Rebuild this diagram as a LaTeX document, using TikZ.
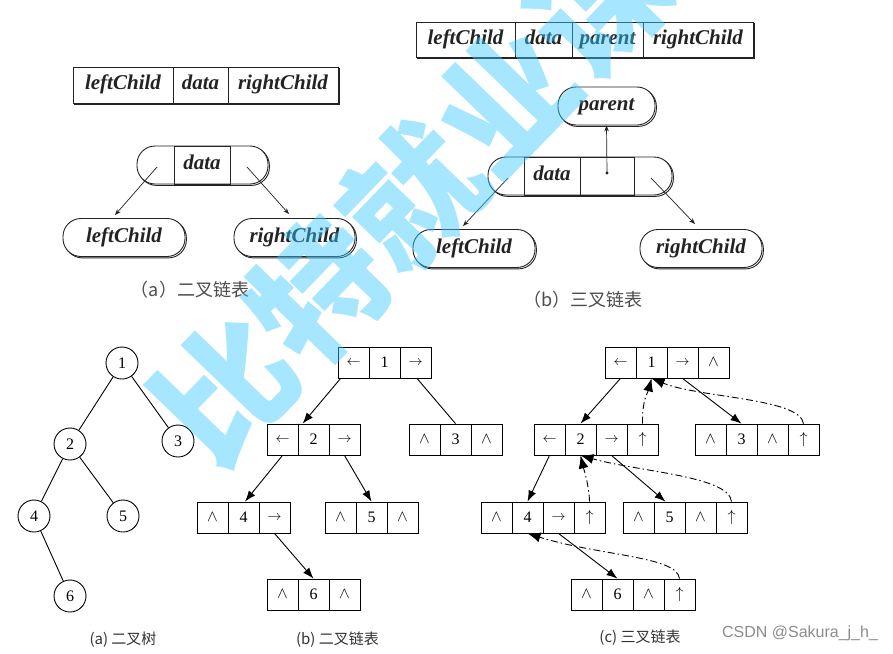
\RequirePackage{fix-cm}
\documentclass[tikz,border=0pt]{standalone}
\usepackage{fontspec}
\setmainfont{Liberation Serif}
\newfontfamily\cjk{Noto Sans CJK SC}
\newfontfamily\csdnfont{Liberation Sans}
\usetikzlibrary{arrows.meta,shadows}
\definecolor{wmblue}{RGB}{60,200,255}
\definecolor{ink}{RGB}{35,35,35}
\newcommand\myL{{\fontsize{14}{14}\selectfont$\leftarrow$}}
\newcommand\myR{{\fontsize{14}{14}\selectfont$\rightarrow$}}
\newcommand\myU{$\uparrow$}
\newcommand\myN{$\wedge$}
\begin{document}
\begin{tikzpicture}[x=1pt,y=-1pt,
  shd/.style={copy shadow={shadow xshift=1.4pt,shadow yshift=-1.4pt,draw=ink}},
  itf/.style={font=\bfseries\itshape\fontsize{21}{21}\selectfont,text=ink,text height=14pt,text depth=5pt},
  fld/.style={draw=ink,line width=0.9pt,fill=white,minimum height=36pt,inner sep=0pt,itf,shd},
  rnd/.style={draw=ink,line width=0.9pt,fill=white,rounded corners=18pt,minimum height=38pt,inner sep=0pt,itf,shd},
  inn/.style={draw=ink,line width=0.9pt,minimum height=38pt,inner sep=0pt,itf},
  tarr/.style={draw=ink,line width=0.7pt,-{Stealth[length=6pt,width=4.5pt]}},
  cell/.style={draw,line width=0.8pt,minimum width=31pt,minimum height=31pt,inner sep=0pt,
    font=\fontsize{16}{16}\selectfont},
  circ/.style={circle,draw,line width=0.9pt,minimum size=32pt,inner sep=0pt,font=\fontsize{16}{16}\selectfont},
  tline/.style={line width=0.9pt},
  barr/.style={line width=0.9pt,-{Latex[length=11pt,width=8pt]}},
  bline/.style={line width=0.9pt},
  parr/.style={line width=0.9pt,dash pattern=on 7pt off 3pt on 1.5pt off 3pt,-{Latex[length=13pt,width=10pt]}},
  capbig/.style={font=\cjk\fontsize{18}{18}\selectfont,text=black!70},
  capsm/.style={font=\cjk\fontsize{15}{15}\selectfont,text=black!80}
]
\useasboundingbox (0,0) rectangle (893,653);
\fill[white] (0,0) rectangle (893,653);

% ---------- top (a) ----------
\node[fld,minimum width=100pt] (T1a) at (123,85) {leftChild};
\node[fld,minimum width=55pt] (T1b) at (200.5,85) {data};
\node[fld,minimum width=110pt] (T1c) at (283,85) {rightChild};

\node[rnd,minimum width=131pt] (an) at (202.5,165) {};
\node[inn,minimum width=56pt] (adat) at (202,165) {data};
\node[rnd,minimum width=122pt] (L1) at (124,237.5) {leftChild};
\node[rnd,minimum width=121pt] (R1) at (294.5,237.5) {rightChild};
\coordinate (aLs) at (157,167);
\coordinate (aRs) at (247,167);
\draw[tarr] (aLs) -- ([xshift=-9pt,yshift=3pt]L1.north);
\draw[tarr] (aRs) -- ([xshift=-5.5pt,yshift=4pt]R1.north);
\node[capbig] (capA) at (190,290) {（a）二叉链表};

% ---------- top (b) ----------
\node[fld,minimum width=99pt,minimum height=35pt] (T2a) at (465.5,39.5) {leftChild};
\node[fld,minimum width=57pt,minimum height=35pt] (T2b) at (543.5,39.5) {data};
\node[fld,minimum width=71pt,minimum height=35pt] (T2c) at (607.5,39.5) {parent};
\node[fld,minimum width=110pt,minimum height=35pt] (T2d) at (698,39.5) {rightChild};

\node[rnd,minimum width=97pt] (P) at (606.5,106) {parent};
\node[rnd,minimum width=184pt] (bn) at (580,176) {};
\node[inn,minimum width=56pt] (bdat) at (552,176) {data};
\node[inn,minimum width=54pt] (bpar) at (607,176) {};
\node[rnd,minimum width=122pt] (L2) at (474,248.5) {leftChild};
\node[rnd,minimum width=122pt] (R2) at (701,248.5) {rightChild};
\coordinate (bdot) at (607,173);
\coordinate (bLs) at (508,178);
\coordinate (bRs) at (651,178);
\fill[ink] (bdot) circle (1.6pt);
\draw[tarr] (bdot) -- (P.south);
\draw[tarr] (bLs) -- ([xshift=-11pt,yshift=3pt]L2.north);
\draw[tarr] (bRs) -- ([xshift=-6pt,yshift=5pt]R2.north);
\node[capbig] (capB) at (583,300) {（b）三叉链表};

% ---------- bottom (a) tree ----------
\node[circ] (t1) at (122,363) {1};
\node[circ] (t2) at (70,444) {2};
\node[circ] (t3) at (178,441) {3};
\node[circ] (t4) at (34,516) {4};
\node[circ] (t5) at (123,516) {5};
\node[circ] (t6) at (70,596) {6};
\draw[tline] (t1) -- (t2);
\draw[tline] (t1) -- (t3);
\draw[tline] (t2) -- (t4);
\draw[tline] (t2) -- (t5);
\draw[tline] (t4) -- (t6);
\node[capsm] (capTa) at (123,640) {(a) 二叉树};

% ---------- bottom (b) binary linked ----------
\node[cell] (B1a) at (353.5,362.5) {\myL};
\node[cell] (B1b) at (384.5,362.5) {1};
\node[cell] (B1c) at (415.5,362.5) {\myR};
\node[cell] (B2a) at (282.5,439.5) {\myL};
\node[cell] (B2b) at (313.5,439.5) {2};
\node[cell] (B2c) at (344.5,439.5) {\myR};
\node[cell] (B3a) at (424.5,439.5) {\myN};
\node[cell] (B3b) at (455.5,439.5) {3};
\node[cell] (B3c) at (486.5,439.5) {\myN};
\node[cell] (B4a) at (212.5,517.5) {\myN};
\node[cell] (B4b) at (243.5,517.5) {4};
\node[cell] (B4c) at (274.5,517.5) {\myR};
\node[cell] (B5a) at (340.5,517.5) {\myN};
\node[cell] (B5b) at (371.5,517.5) {5};
\node[cell] (B5c) at (402.5,517.5) {\myN};
\node[cell] (B6a) at (282.5,594.5) {\myN};
\node[cell] (B6b) at (313.5,594.5) {6};
\node[cell] (B6c) at (344.5,594.5) {\myN};
\draw[barr] ([xshift=3pt]B1a.south west) -- ([xshift=5pt]B2b.north west);
\draw[bline] ([xshift=1.5pt]B1c.south) -- (B3b.north);
\draw[barr] (B2a.south) -- ([xshift=1.5pt]B4b.north);
\draw[barr] (B2c.south) -- (B5b.north);
\draw[barr] (B4c.south) -- (B6b.north);
\node[capsm] (capTb) at (337.5,640) {(b) 二叉链表};

% ---------- bottom (c) trinary linked ----------
\node[cell] (C1a) at (620.5,362.5) {\myL};
\node[cell] (C1b) at (651.5,362.5) {1};
\node[cell] (C1c) at (682.5,362.5) {\myR};
\node[cell] (C1d) at (713.5,362.5) {\myN};
\node[cell] (C2a) at (549.5,439.5) {\myL};
\node[cell] (C2b) at (580.5,439.5) {2};
\node[cell] (C2c) at (611.5,439.5) {\myR};
\node[cell] (C2d) at (642.5,439.5) {\myU};
\node[cell] (C3a) at (710.5,439.5) {\myN};
\node[cell] (C3b) at (741.5,439.5) {3};
\node[cell] (C3c) at (772.5,439.5) {\myN};
\node[cell] (C3d) at (803.5,439.5) {\myU};
\node[cell] (C4a) at (496.5,517.5) {\myN};
\node[cell] (C4b) at (527.5,517.5) {4};
\node[cell] (C4c) at (558.5,517.5) {\myR};
\node[cell] (C4d) at (589.5,517.5) {\myU};
\node[cell] (C5a) at (638.5,517.5) {\myN};
\node[cell] (C5b) at (669.5,517.5) {5};
\node[cell] (C5c) at (700.5,517.5) {\myN};
\node[cell] (C5d) at (731.5,517.5) {\myU};
\node[cell] (C6a) at (586.5,594.5) {\myN};
\node[cell] (C6b) at (617.5,594.5) {6};
\node[cell] (C6c) at (648.5,594.5) {\myN};
\node[cell] (C6d) at (679.5,594.5) {\myU};
\draw[barr] (C1a.south) -- (C2b.north);
\draw[barr] (C1c.south) -- (C3b.north);
\draw[barr] (C2a.south) -- (C4b.north);
\draw[barr] (C2c.south) -- ([xshift=-4pt]C5b.north);
\draw[barr] (C4c.south) -- (C6b.north);
\draw[parr] (C2d.north) .. controls (642,400) and (648,392) .. (C1b.south);
\draw[parr] (C3d.north) .. controls (800,398) and (700,398) .. (C1b.south);
\draw[parr] (C4d.north) .. controls (589,485) and (584,470) .. (C2b.south);
\draw[parr] (C5d.north) .. controls (729,476) and (640,472) .. (C2b.south);
\draw[parr] (C6d.north) .. controls (677,556) and (600,556) .. (C4b.south);
\node[capsm] (capTc) at (640,638) {(c) 三叉链表};

\node[font=\csdnfont\fontsize{16}{16}\selectfont,text=black!45] (csdn) at (800,633) {CSDN @Sakura\_j\_h\_};

% ---------- watermark ----------
\node[rotate=46,text=wmblue,text opacity=0.45,font=\cjk\bfseries\fontsize{134}{134}\selectfont,inner sep=0pt] (wm) at (412,196) {比特就业课};
\end{tikzpicture}
\end{document}
